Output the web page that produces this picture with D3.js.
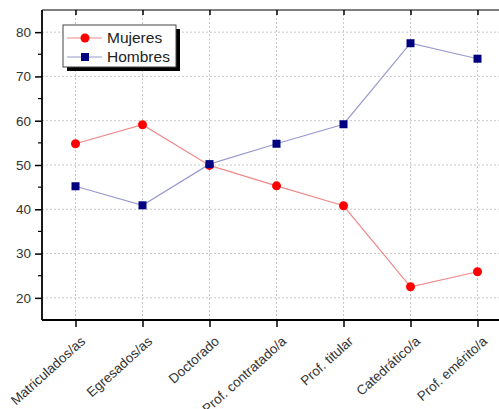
<!DOCTYPE html>
<html><head><meta charset="utf-8">
<script src="https://cdn.jsdelivr.net/npm/d3@7"></script>
<style>body{margin:0;background:#fff}svg{display:block}</style>
</head><body><svg id="c" width="499" height="409"></svg>
<script>
const categories = ["Matriculados/as","Egresados/as","Doctorado","Prof. contratado/a","Prof. titular","Catedrático/a","Prof. emérito/a"];
const mujeres = [54.8, 59.1, 49.9, 45.3, 40.8, 22.5, 25.9];
const hombres = [45.2, 40.9, 50.2, 54.8, 59.2, 77.5, 74.0];
const yTicks = [20,30,40,50,60,70,80];
const yMinor = [25,35,45,55,65,75];
const seriesNames = ["Mujeres","Hombres"];

const svg = d3.select("#c");
const L=42, T=10, B=320, R=511;
const x = d3.scalePoint().domain(categories).range([L,R]).padding(0.5);
const y = d3.scaleLinear().domain([15,85]).range([B,T]);
const FONT = "Liberation Sans, Arial, sans-serif";

// grid
const g = svg.append("g");
g.selectAll("line.h").data(yTicks).join("line")
 .attr("x1",L).attr("x2",499).attr("y1",d=>y(d)).attr("y2",d=>y(d))
 .attr("stroke","#c8c8c8").attr("stroke-dasharray","2,2");
g.selectAll("line.v").data(categories).join("line")
 .attr("x1",d=>x(d)).attr("x2",d=>x(d)).attr("y1",T).attr("y2",B)
 .attr("stroke","#c8c8c8").attr("stroke-dasharray","2,2");

// axes
const yAx = svg.append("g").attr("transform",`translate(${L},0)`)
 .call(d3.axisLeft(y).tickValues(yTicks).tickSize(7).tickPadding(4));
yAx.select(".domain").remove();
yAx.selectAll("text").attr("font-family",FONT).attr("font-size",13.5).attr("fill","#333");
yAx.selectAll("line").attr("stroke","#000").attr("stroke-width",1.5);
svg.append("g").selectAll("line").data(yMinor).join("line")
 .attr("x1",L-4).attr("x2",L).attr("y1",d=>y(d)).attr("y2",d=>y(d)).attr("stroke","#000").attr("stroke-width",1.2);

const xAx = svg.append("g").attr("transform",`translate(0,${B})`)
 .call(d3.axisBottom(x).tickSize(7).tickPadding(6));
xAx.select(".domain").remove();
xAx.selectAll("line").attr("stroke","#000").attr("stroke-width",1.5);
xAx.selectAll("text").attr("font-family",FONT).attr("font-size",13.5).attr("fill","#333")
 .attr("text-anchor","end").attr("x",0).attr("y",0).attr("dy","0.35em")
 .attr("transform","translate(7,19) rotate(-42)");

const topAx = svg.append("g").attr("transform",`translate(0,${T})`)
 .call(d3.axisBottom(x).tickSize(5).tickFormat(""));
topAx.select(".domain").remove();
topAx.selectAll("line").attr("stroke","#000").attr("stroke-width",1.5);

svg.append("line").attr("x1",L).attr("x2",L).attr("y1",T).attr("y2",B).attr("stroke","#000").attr("stroke-width",1.8);
svg.append("line").attr("x1",L).attr("x2",499).attr("y1",B).attr("y2",B).attr("stroke","#000").attr("stroke-width",1.8);
svg.append("line").attr("x1",L).attr("x2",499).attr("y1",T).attr("y2",T).attr("stroke","#000").attr("stroke-width",1.2);

// lines
const line = d3.line().x((d,i)=>x(categories[i])).y(d=>y(d));
svg.append("path").datum(mujeres).attr("d",line).attr("fill","none").attr("stroke","#f08a8a").attr("stroke-width",1.2);
svg.append("path").datum(hombres).attr("d",line).attr("fill","none").attr("stroke","#9a9ad0").attr("stroke-width",1.2);
svg.append("g").selectAll("circle").data(mujeres).join("circle")
 .attr("cx",(d,i)=>x(categories[i])).attr("cy",d=>y(d)).attr("r",4.5).attr("fill","#ff0000");
svg.append("g").selectAll("rect").data(hombres).join("rect")
 .attr("x",(d,i)=>x(categories[i])-4).attr("y",d=>y(d)-4).attr("width",8).attr("height",8).attr("fill","#000080");

// legend
const lg = svg.append("g");
lg.append("rect").attr("x",67).attr("y",29).attr("width",113).attr("height",42).attr("fill","#000");
lg.append("rect").attr("x",63).attr("y",25).attr("width",113).attr("height",42).attr("fill","#fff").attr("stroke","#444").attr("stroke-width",1);
const ly = [38,57];
lg.append("line").attr("x1",67).attr("x2",102).attr("y1",ly[0]).attr("y2",ly[0]).attr("stroke","#f08a8a").attr("stroke-width",1.2);
lg.append("circle").attr("cx",85).attr("cy",ly[0]).attr("r",4.5).attr("fill","#ff0000");
lg.append("line").attr("x1",67).attr("x2",102).attr("y1",ly[1]).attr("y2",ly[1]).attr("stroke","#9a9ad0").attr("stroke-width",1.2);
lg.append("rect").attr("x",81).attr("y",ly[1]-4).attr("width",8).attr("height",8).attr("fill","#000080");
lg.selectAll("text").data(seriesNames).join("text")
 .attr("x",107).attr("y",(d,i)=>ly[i]).attr("dy","0.35em")
 .attr("font-family",FONT).attr("font-size",15.5).attr("fill","#222").text(d=>d);
</script></body></html>
